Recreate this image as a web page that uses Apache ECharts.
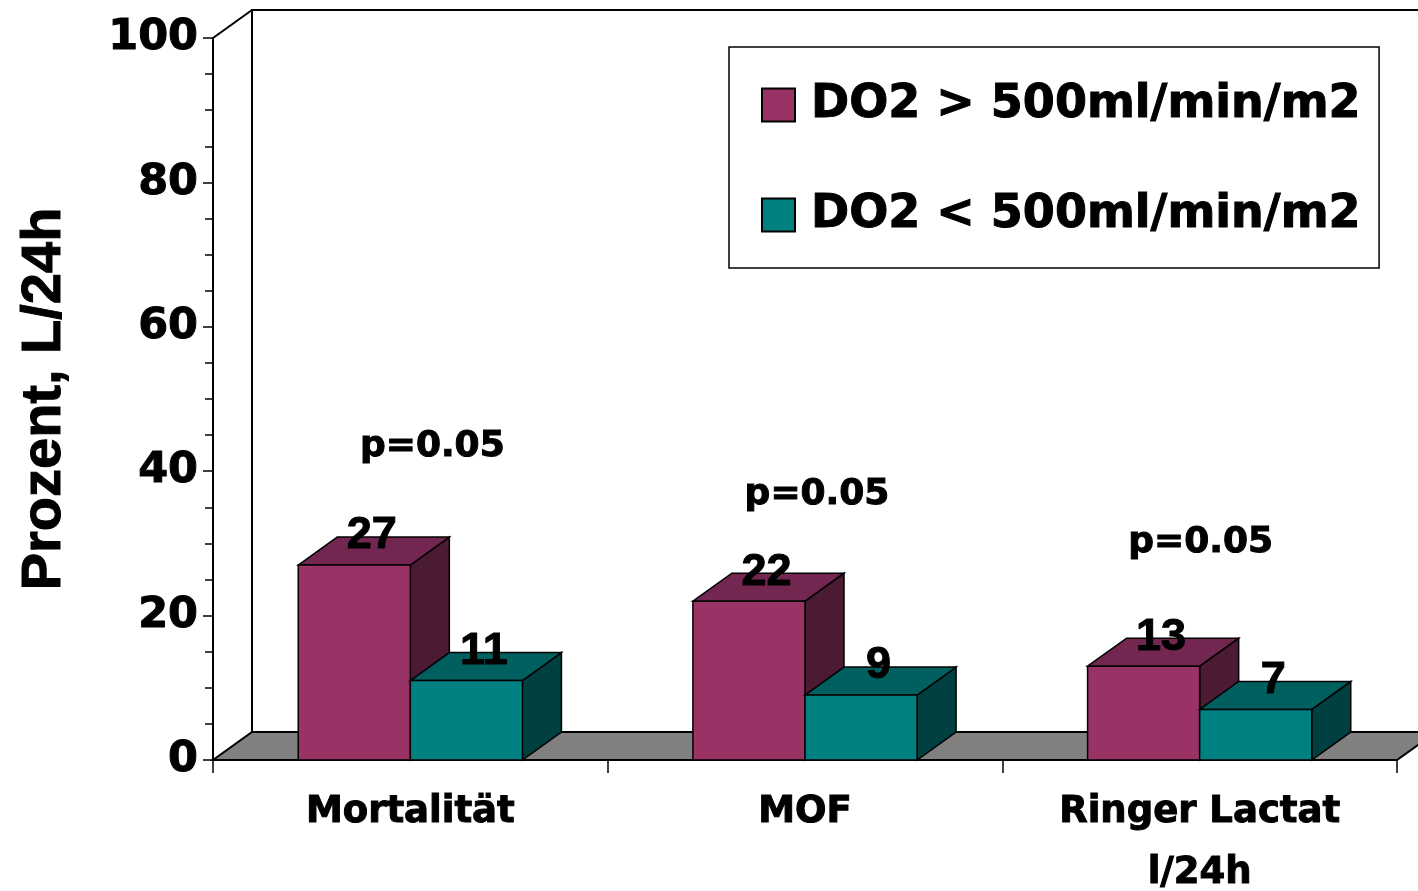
<!DOCTYPE html>
<html>
<head>
<meta charset="utf-8">
<script src="https://cdn.jsdelivr.net/npm/echarts@6/dist/echarts.min.js"></script>
<style>
  html, body { margin: 0; padding: 0; background: #ffffff; }
  #chart { width: 1418px; height: 891px; }
</style>
</head>
<body>
<div id="chart"></div>
<script>
// ---- data ----
const categories = ['Mortalität', 'MOF', 'Ringer Lactat\nl/24h'];
const seriesNames = ['DO2 > 500ml/min/m2', 'DO2 < 500ml/min/m2'];
const highDO2 = [27, 22, 13];
const lowDO2 = [11, 9, 7];
const pValueTexts = ['p=0.05', 'p=0.05', 'p=0.05'];
const yAxisTitle = 'Prozent, L/24h';

// ---- layout / style ----
const DEPTH_X = 39;     // pseudo-3D depth offset (pixels)
const DEPTH_Y = -28;
const BAR_FRACTION = 0.284;               // one bar width as a share of the category band
// annotation anchor: [pixel shift from category centre, height in axis units]
const pLabelAnchor = [[22, 43.4], [12, 36.7], [1, 30.1]];
const FONT = "'DejaVu Sans', sans-serif";
const VALUE_FONT = "'Liberation Sans', Arial, sans-serif";
const TEXT_WEIGHT = 1;  // thin outline that thickens the bold glyphs
const palette = [
  { front: '#993366', top: '#732650', side: '#4d1a33' },
  { front: '#008080', top: '#006060', side: '#004040' }
];

const chart = echarts.init(document.getElementById('chart'), null, { renderer: 'canvas' });

// floor, back wall and left wall outline
function renderFrame(params, api) {
  const cs = params.coordSys;
  const x0 = cs.x, x1 = cs.x + cs.width;
  const yb = cs.y + cs.height, yt = cs.y;
  const dx = DEPTH_X, dy = DEPTH_Y;
  return {
    type: 'group',
    children: [
      {
        type: 'polygon',
        shape: { points: [[x0, yb], [x1, yb], [x1 + dx, yb + dy], [x0 + dx, yb + dy]] },
        style: { fill: '#808080', stroke: '#000', lineWidth: 2 }
      },
      {
        type: 'polyline',
        shape: { points: [[x0 + dx, yb + dy], [x0 + dx, yt + dy], [x1 + dx, yt + dy], [x1 + dx, yb + dy]] },
        style: { fill: null, stroke: '#000', lineWidth: 2 }
      },
      {
        type: 'line',
        shape: { x1: x0, y1: yt, x2: x0 + dx, y2: yt + dy },
        style: { stroke: '#000', lineWidth: 2 }
      }
    ]
  };
}

// one 3D box per data item
function makeBoxRenderer(groupIndex) {
  const col = palette[groupIndex];
  return function (params, api) {
    const cat = api.value(0);
    const val = api.value(1);
    const band = api.size([1, 0])[0];
    const w = band * BAR_FRACTION;
    const center = api.coord([cat, 0])[0];
    const left = center - w + groupIndex * w;
    const right = left + w;
    const top = api.coord([cat, val])[1];
    const base = api.coord([cat, 0])[1];
    const dx = DEPTH_X, dy = DEPTH_Y;
    const stroke = { stroke: '#000', lineWidth: 1.5 };
    return {
      type: 'group',
      children: [
        {
          type: 'polygon',
          shape: { points: [[right, top], [right + dx, top + dy], [right + dx, base + dy], [right, base]] },
          style: Object.assign({ fill: col.side }, stroke)
        },
        {
          type: 'polygon',
          shape: { points: [[left, top], [left + dx, top + dy], [right + dx, top + dy], [right, top]] },
          style: Object.assign({ fill: col.top }, stroke)
        },
        {
          type: 'rect',
          shape: { x: left, y: top, width: w, height: base - top },
          style: Object.assign({ fill: col.front }, stroke)
        },
        {
          type: 'text',
          z2: 50,
          style: {
            x: left + w / 2 + dx / 2 - 2,
            y: top + dy - 1,
            text: String(val),
            align: 'center',
            verticalAlign: 'middle',
            fill: '#000',
            stroke: '#000',
            lineWidth: TEXT_WEIGHT,
            font: 'bold 45px ' + VALUE_FONT
          }
        }
      ]
    };
  };
}

function renderPLabel(params, api) {
  const i = params.dataIndex;
  const anchor = pLabelAnchor[i];
  const pt = api.coord([api.value(0), anchor[1]]);
  return {
    type: 'text',
    style: {
      x: pt[0] + anchor[0],
      y: pt[1],
      text: pValueTexts[i],
      align: 'center',
      verticalAlign: 'middle',
      fill: '#000',
      stroke: '#000',
      lineWidth: TEXT_WEIGHT,
      font: 'bold 36px ' + FONT
    }
  };
}

const option = {
  animation: false,
  backgroundColor: '#ffffff',
  grid: { left: 213, right: 21, top: 38, bottom: 131, outerBoundsMode: 'none', containLabel: false },
  legend: {
    data: seriesNames,
    orient: 'vertical',
    left: 729,
    top: 47,
    padding: [33, 18, 28, 32],
    itemGap: 60,
    itemWidth: 55,
    itemHeight: 33,
    icon: 'path://M0,0H10V10H0Z',
    selectedMode: false,
    backgroundColor: '#ffffff',
    borderColor: '#000',
    borderWidth: 1.5,
    textStyle: {
      fontFamily: FONT,
      fontWeight: 'bold',
      fontSize: 46,
      lineHeight: 50,
      color: '#000',
      textBorderColor: '#000',
      textBorderWidth: TEXT_WEIGHT
    }
  },
  xAxis: {
    type: 'category',
    data: categories,
    boundaryGap: true,
    axisLine: { show: true, lineStyle: { color: '#000', width: 2 } },
    axisTick: { show: true, length: 13, lineStyle: { color: '#000', width: 1.5 } },
    axisLabel: {
      color: '#000',
      fontFamily: FONT,
      fontWeight: 'bold',
      fontSize: 37,
      lineHeight: 61,
      margin: 22,
      interval: 0,
      textBorderColor: '#000',
      textBorderWidth: TEXT_WEIGHT
    },
    splitLine: { show: false }
  },
  yAxis: {
    type: 'value',
    min: 0,
    max: 100,
    interval: 20,
    name: yAxisTitle,
    nameLocation: 'middle',
    nameGap: 140,
    nameTextStyle: {
      fontFamily: "'Liberation Sans', Arial, sans-serif",
      fontWeight: 'bold',
      fontSize: 56,
      color: '#000',
      textBorderColor: '#000',
      textBorderWidth: TEXT_WEIGHT
    },
    axisLine: { show: true, lineStyle: { color: '#000', width: 2 } },
    axisTick: { show: true, length: 10, lineStyle: { color: '#000', width: 1.5 } },
    minorTick: { show: true, splitNumber: 4, length: 8, lineStyle: { color: '#000', width: 1.5 } },
    axisLabel: {
      color: '#000',
      fontFamily: FONT,
      fontWeight: 'bold',
      fontSize: 43,
      margin: 15,
      padding: [0, 0, 8, 0],
      textBorderColor: '#000',
      textBorderWidth: TEXT_WEIGHT
    },
    splitLine: { show: false },
    minorSplitLine: { show: false }
  },
  series: [
    {
      name: 'frame',
      type: 'custom',
      z: 1,
      silent: true,
      renderItem: renderFrame,
      data: [[0, 0]]
    },
    {
      name: seriesNames[0],
      type: 'custom',
      z: 3,
      renderItem: makeBoxRenderer(0),
      itemStyle: { color: palette[0].front, borderColor: '#000', borderWidth: 1.5 },
      data: categories.map((c, i) => [i, highDO2[i]])
    },
    {
      name: seriesNames[1],
      type: 'custom',
      z: 4,
      renderItem: makeBoxRenderer(1),
      itemStyle: { color: palette[1].front, borderColor: '#000', borderWidth: 1.5 },
      data: categories.map((c, i) => [i, lowDO2[i]])
    },
    {
      name: 'p-values',
      type: 'custom',
      z: 5,
      silent: true,
      renderItem: renderPLabel,
      data: categories.map((c, i) => [i, 0])
    }
  ]
};

chart.setOption(option);
</script>
</body>
</html>
